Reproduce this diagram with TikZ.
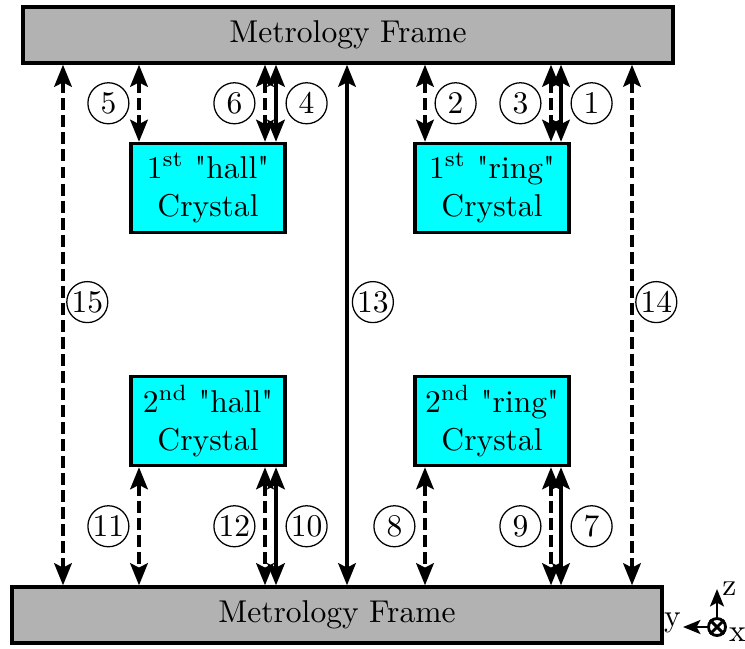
\documentclass[tikz,border=0pt]{standalone}
\usepackage{fontspec}
\usetikzlibrary{arrows.meta,calc}
\newfontfamily\plainquote{lmroman10-regular}[Extension=.otf]
\newcommand{\sq}{{\plainquote"}}
\definecolor{crystalcyan}{RGB}{0,255,255}

\begin{document}
\begin{tikzpicture}[
  x=0.317pt, y=-0.317pt,
  >={Stealth[length=7pt, width=5.6pt, inset=1.4pt]},
  frame/.style={draw, line width=1.1pt, fill=black!30, minimum width=206pt, minimum height=17.75pt, inner sep=0pt},
  crystal/.style={draw, line width=1.1pt, fill=crystalcyan, align=center, minimum width=48.8pt, minimum height=28.2pt, inner sep=0pt},
  num/.style={circle, draw, thin, solid, minimum size=13pt, inner sep=0pt},
  meas/.style={line width=1.1pt, <->},
  measd/.style={meas, dash pattern=on 3.8pt off 1.6pt},
  lbl/.style={inner sep=0.5pt}
]
\useasboundingbox (0,0) rectangle (745,648);

\node[frame] (topframe) at (348,35) {Metrology Frame};
\node[frame] (botframe) at (337,615) {Metrology Frame};
\node[crystal] (hall1) at (208,188) {1\textsuperscript{st} \sq hall\sq\\Crystal};
\node[crystal] (ring1) at (492,188) {1\textsuperscript{st} \sq ring\sq\\Crystal};
\node[crystal] (hall2) at (208,421) {2\textsuperscript{nd} \sq hall\sq\\Crystal};
\node[crystal] (ring2) at (492,421) {2\textsuperscript{nd} \sq ring\sq\\Crystal};

% x positions of the measurement lines
\coordinate (xa) at (63,0);
\coordinate (xb) at (139,0);
\coordinate (xc) at (265,0);
\coordinate (xd) at (276,0);
\coordinate (xe) at (347,0);
\coordinate (xf) at (425,0);
\coordinate (xg) at (551,0);
\coordinate (xh) at (561,0);
\coordinate (xi) at (632,0);

% top frame to 1st crystals
\draw[measd] (topframe.south -| xb) -- node[num, left=3pt] {5} (hall1.north -| xb);
\draw[measd] (topframe.south -| xc) -- node[num, left=3pt] {6} (hall1.north -| xc);
\draw[meas] (topframe.south -| xd) -- node[num, right=3pt] {4} (hall1.north -| xd);
\draw[measd] (topframe.south -| xf) -- node[num, right=3pt] {2} (ring1.north -| xf);
\draw[measd] (topframe.south -| xg) -- node[num, left=3pt] {3} (ring1.north -| xg);
\draw[meas] (topframe.south -| xh) -- node[num, right=3pt] {1} (ring1.north -| xh);

% 2nd crystals to bottom frame
\draw[measd] (hall2.south -| xb) -- node[num, left=3pt] {11} (botframe.north -| xb);
\draw[measd] (hall2.south -| xc) -- node[num, left=3pt] {12} (botframe.north -| xc);
\draw[meas] (hall2.south -| xd) -- node[num, right=3pt] {10} (botframe.north -| xd);
\draw[measd] (ring2.south -| xf) -- node[num, left=3pt] {8} (botframe.north -| xf);
\draw[measd] (ring2.south -| xg) -- node[num, left=3pt] {9} (botframe.north -| xg);
\draw[meas] (ring2.south -| xh) -- node[num, right=3pt] {7} (botframe.north -| xh);

% frame to frame
\draw[measd] (topframe.south -| xa) -- node[num, pos=0.456, right=1pt] {15} (botframe.north -| xa);
\draw[meas] (topframe.south -| xe) -- node[num, pos=0.456, right=1.5pt] {13} (botframe.north -| xe);
\draw[measd] (topframe.south -| xi) -- node[num, pos=0.456, right=1pt] {14} (botframe.north -| xi);

% axes
\node[circle, draw, line width=0.9pt, minimum size=5.4pt, inner sep=0pt] (ax) at (717,627) {};
\draw[line width=0.9pt] (ax.north west) -- (ax.south east) (ax.north east) -- (ax.south west);
\coordinate (ztip) at (717,589);
\coordinate (ytip) at (683,627);
\draw[line width=0.9pt, -{Stealth[length=5.5pt, width=4.4pt, inset=1.2pt]}] (ax.north) -- (ztip);
\draw[line width=0.9pt, -{Stealth[length=5.5pt, width=4.4pt, inset=1.2pt]}] (ax.west) -- (ytip);
\node[lbl, anchor=west] (zl) at ([xshift=1pt]ztip) {z};
\node[lbl, anchor=south east] (yl) at ([yshift=-2.5pt]ytip) {y};
\node[lbl, anchor=west] (xl) at ([yshift=-2.5pt]ax.east) {x};
\end{tikzpicture}
\end{document}
